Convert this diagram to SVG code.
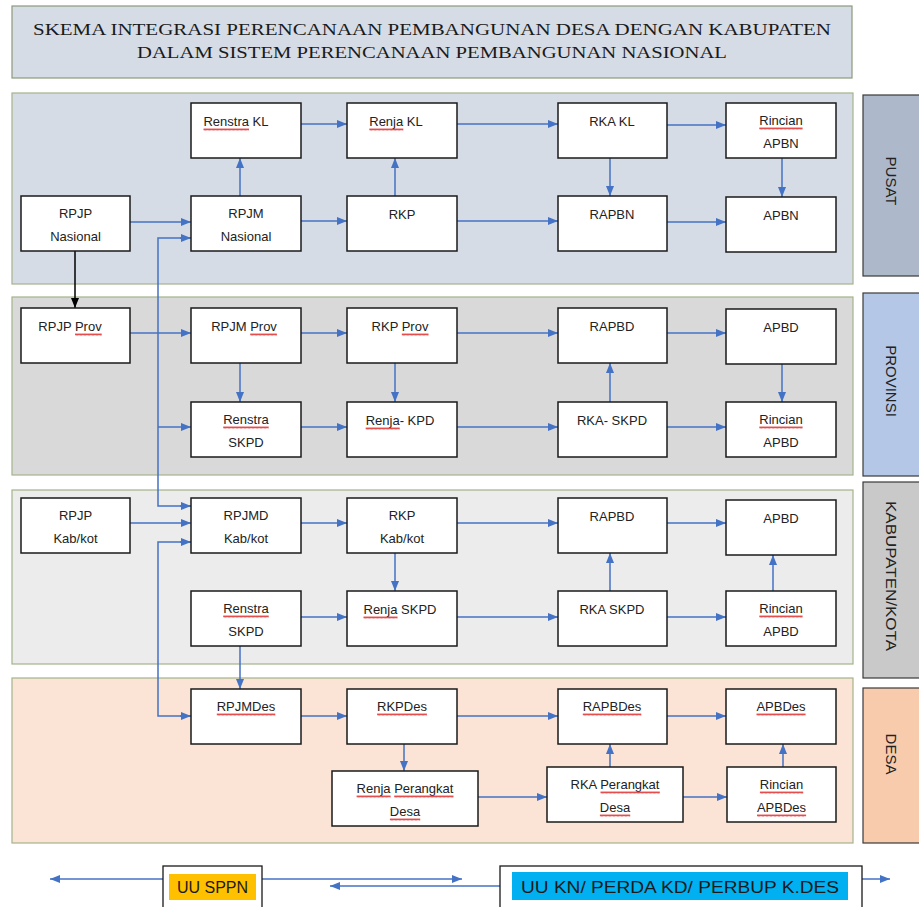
<svg xmlns="http://www.w3.org/2000/svg" xmlns:xlink="http://www.w3.org/1999/xlink" width="919" height="907" viewBox="0 0 919 907">
<style>
.panel{stroke:#a3b48a;stroke-width:1.2}
.side{stroke:#3a3a3a;stroke-width:1.2}
.box{fill:#ffffff;stroke:#1a1a1a;stroke-width:1.5}
.t{font-family:"Liberation Sans",Arial,sans-serif;font-size:13px;fill:#222;text-anchor:middle}
.st{font-family:"Liberation Sans",Arial,sans-serif;font-size:15px;fill:#222;text-anchor:middle;dominant-baseline:central}
.title{font-family:"Liberation Serif","Times New Roman",serif;font-size:17px;fill:#1a1a1a;text-anchor:middle}
.c{fill:none;stroke:#4472c4;stroke-width:1.5}
.k{fill:none;stroke:#000;stroke-width:1.5}
.wv{fill:url(#wave)}
.lg{font-family:"Liberation Sans",Arial,sans-serif;font-size:16px;fill:#1a1a1a;text-anchor:middle}
</style>
<defs>
<marker id="ah" markerWidth="10" markerHeight="8" refX="10" refY="4" orient="auto" markerUnits="userSpaceOnUse"><path d="M0,0 L10,4 L0,8 z" fill="#4472c4"/></marker>
<marker id="ak" markerWidth="10" markerHeight="8" refX="10" refY="4" orient="auto" markerUnits="userSpaceOnUse"><path d="M0,0 L10,4 L0,8 z" fill="#000"/></marker>
<pattern id="wave" width="4" height="3" patternUnits="userSpaceOnUse"><path d="M0,2.5 L1,0.5 L2,2.5 L3,0.5 L4,2.5" fill="none" stroke="#e02020" stroke-width="0.8"/></pattern>
</defs>
<rect x="0" y="0" width="919" height="907" fill="#ffffff"/>

<g id="title">
<rect x="12" y="6" width="840" height="72" fill="#d6dce5" stroke="#8c9a7c" stroke-width="1.2"/>
<text class="title" x="432" y="35" textLength="798" lengthAdjust="spacingAndGlyphs">SKEMA INTEGRASI PERENCANAAN PEMBANGUNAN DESA DENGAN KABUPATEN</text>
<text class="title" x="432" y="58" textLength="590" lengthAdjust="spacingAndGlyphs">DALAM SISTEM PERENCANAAN PEMBANGUNAN NASIONAL</text>
</g>

<g id="panels">
<rect class="panel" x="12" y="93" width="841" height="191" fill="#d6dce5"/>
<rect class="panel" x="12" y="297" width="841" height="178" fill="#d9d9d9"/>
<rect class="panel" x="12" y="490" width="841" height="174" fill="#ececec"/>
<rect class="panel" x="12" y="678" width="841" height="165" fill="#fbe4d5"/>
</g>

<g id="side-labels">
<g id="lbl-pusat"><rect class="side" x="863" y="95" width="62" height="181" fill="#adb9ca"/><text class="st" transform="translate(891,181) rotate(90)">PUSAT</text></g>
<g id="lbl-provinsi"><rect class="side" x="863" y="293" width="62" height="183" fill="#b4c7e7"/><text class="st" transform="translate(891,381) rotate(90)">PROVINSI</text></g>
<g id="lbl-kab"><rect class="side" x="863" y="482" width="62" height="196" fill="#c9c9c9"/><text class="st" transform="translate(891,576) rotate(90)" textLength="150" lengthAdjust="spacingAndGlyphs">KABUPATEN/KOTA</text></g>
<g id="lbl-desa"><rect class="side" x="863" y="688" width="62" height="155" fill="#f8cbad"/><text class="st" transform="translate(891,754) rotate(90)">DESA</text></g>
</g>

<g id="connectors">
<!-- PUSAT -->
<line class="c" x1="301" y1="124" x2="347" y2="124" marker-end="url(#ah)"/>
<line class="c" x1="457" y1="124" x2="558" y2="124" marker-end="url(#ah)"/>
<line class="c" x1="667" y1="125" x2="726" y2="125" marker-end="url(#ah)"/>
<line class="c" x1="130" y1="222" x2="191" y2="222" marker-end="url(#ah)"/>
<line class="c" x1="301" y1="221" x2="347" y2="221" marker-end="url(#ah)"/>
<line class="c" x1="457" y1="221" x2="558" y2="221" marker-end="url(#ah)"/>
<line class="c" x1="667" y1="222" x2="726" y2="222" marker-end="url(#ah)"/>
<line class="c" x1="240" y1="196" x2="240" y2="158" marker-end="url(#ah)"/>
<line class="c" x1="395" y1="196" x2="395" y2="158" marker-end="url(#ah)"/>
<line class="c" x1="610" y1="158" x2="610" y2="196" marker-end="url(#ah)"/>
<line class="c" x1="782" y1="158" x2="782" y2="197" marker-end="url(#ah)"/>
<line class="k" x1="75" y1="251" x2="75" y2="308" marker-end="url(#ak)"/>
<!-- long vertical links -->
<polyline class="c" points="191,238 158,238 158,506 191,506"/>
<line class="c" x1="180" y1="238" x2="191" y2="238" marker-end="url(#ah)"/>
<line class="c" x1="180" y1="506" x2="191" y2="506" marker-end="url(#ah)"/>
<line class="c" x1="158" y1="427" x2="191" y2="427" marker-end="url(#ah)"/>
<polyline class="c" points="191,542 158,542 158,716 191,716"/>
<line class="c" x1="180" y1="542" x2="191" y2="542" marker-end="url(#ah)"/>
<line class="c" x1="180" y1="716" x2="191" y2="716" marker-end="url(#ah)"/>
<!-- PROVINSI -->
<line class="c" x1="130" y1="333" x2="191" y2="333" marker-end="url(#ah)"/>
<line class="c" x1="301" y1="333" x2="347" y2="333" marker-end="url(#ah)"/>
<line class="c" x1="457" y1="333" x2="558" y2="333" marker-end="url(#ah)"/>
<line class="c" x1="667" y1="333" x2="726" y2="333" marker-end="url(#ah)"/>
<line class="c" x1="240" y1="363" x2="240" y2="402" marker-end="url(#ah)"/>
<line class="c" x1="395" y1="363" x2="395" y2="402" marker-end="url(#ah)"/>
<line class="c" x1="301" y1="427" x2="347" y2="427" marker-end="url(#ah)"/>
<line class="c" x1="457" y1="427" x2="558" y2="427" marker-end="url(#ah)"/>
<line class="c" x1="667" y1="427" x2="726" y2="427" marker-end="url(#ah)"/>
<line class="c" x1="610" y1="402" x2="610" y2="363" marker-end="url(#ah)"/>
<line class="c" x1="782" y1="364" x2="782" y2="402" marker-end="url(#ah)"/>
<!-- KABUPATEN -->
<line class="c" x1="130" y1="523" x2="191" y2="523" marker-end="url(#ah)"/>
<line class="c" x1="301" y1="523" x2="347" y2="523" marker-end="url(#ah)"/>
<line class="c" x1="457" y1="523" x2="558" y2="523" marker-end="url(#ah)"/>
<line class="c" x1="667" y1="523" x2="726" y2="523" marker-end="url(#ah)"/>
<line class="c" x1="395" y1="553" x2="395" y2="591" marker-end="url(#ah)"/>
<line class="c" x1="301" y1="617" x2="347" y2="617" marker-end="url(#ah)"/>
<line class="c" x1="457" y1="617" x2="558" y2="617" marker-end="url(#ah)"/>
<line class="c" x1="667" y1="617" x2="726" y2="617" marker-end="url(#ah)"/>
<line class="c" x1="610" y1="591" x2="610" y2="553" marker-end="url(#ah)"/>
<line class="c" x1="773" y1="591" x2="773" y2="555" marker-end="url(#ah)"/>
<line class="c" x1="240" y1="646" x2="240" y2="689" marker-end="url(#ah)"/>
<!-- DESA -->
<line class="c" x1="301" y1="716" x2="347" y2="716" marker-end="url(#ah)"/>
<line class="c" x1="457" y1="716" x2="558" y2="716" marker-end="url(#ah)"/>
<line class="c" x1="667" y1="716" x2="726" y2="716" marker-end="url(#ah)"/>
<line class="c" x1="404" y1="744" x2="404" y2="771" marker-end="url(#ah)"/>
<line class="c" x1="478" y1="797" x2="547" y2="797" marker-end="url(#ah)"/>
<line class="c" x1="683" y1="797" x2="727" y2="797" marker-end="url(#ah)"/>
<line class="c" x1="610" y1="767" x2="610" y2="744" marker-end="url(#ah)"/>
<line class="c" x1="783" y1="767" x2="783" y2="744" marker-end="url(#ah)"/>
<!-- legend arrows -->
<line class="c" x1="163" y1="879" x2="50" y2="879" marker-end="url(#ah)"/>
<line class="c" x1="262" y1="879" x2="462" y2="879" marker-end="url(#ah)"/>
<line class="c" x1="500" y1="886" x2="330" y2="886" marker-end="url(#ah)"/>
<line class="c" x1="862" y1="879" x2="890" y2="879" marker-end="url(#ah)"/>
</g>

<!-- PUSAT nodes -->
<g id="renstra-kl"><rect class="box" x="191" y="103" width="110" height="55"/><text class="t" x="236" y="126">Renstra KL</text><rect class="wv" transform="translate(203.5,128)" width="45.5" height="3"/></g>
<g id="renja-kl"><rect class="box" x="347" y="103" width="110" height="55"/><text class="t" x="396" y="126">Renja KL</text><rect class="wv" transform="translate(369.3,128)" width="34" height="3"/></g>
<g id="rka-kl"><rect class="box" x="558" y="103" width="109" height="55"/><text class="t" x="612" y="126">RKA KL</text></g>
<g id="rincian-apbn"><rect class="box" x="726" y="103" width="110" height="55"/><text class="t" x="781" y="125">Rincian</text><text class="t" x="781" y="148">APBN</text><rect class="wv" transform="translate(759.3,127)" width="43.3" height="3"/></g>
<g id="rpjp-nasional"><rect class="box" x="21" y="196" width="109" height="55"/><text class="t" x="75.5" y="218">RPJP</text><text class="t" x="75.5" y="241">Nasional</text></g>
<g id="rpjm-nasional"><rect class="box" x="191" y="196" width="110" height="55"/><text class="t" x="246" y="218">RPJM</text><text class="t" x="246" y="241">Nasional</text></g>
<g id="rkp"><rect class="box" x="347" y="196" width="110" height="55"/><text class="t" x="402" y="219">RKP</text></g>
<g id="rapbn"><rect class="box" x="558" y="196" width="109" height="55"/><text class="t" x="612" y="219">RAPBN</text></g>
<g id="apbn"><rect class="box" x="726" y="197" width="110" height="55"/><text class="t" x="781" y="220">APBN</text></g>

<!-- PROVINSI nodes -->
<g id="rpjp-prov"><rect class="box" x="21" y="308" width="109" height="55"/><text class="t" x="70" y="331">RPJP Prov</text><rect class="wv" transform="translate(75,333)" width="26.7" height="3"/></g>
<g id="rpjm-prov"><rect class="box" x="191" y="308" width="110" height="55"/><text class="t" x="244" y="331">RPJM Prov</text><rect class="wv" transform="translate(250.2,333)" width="26.7" height="3"/></g>
<g id="rkp-prov"><rect class="box" x="347" y="308" width="110" height="55"/><text class="t" x="400" y="331">RKP Prov</text><rect class="wv" transform="translate(401.8,333)" width="26.7" height="3"/></g>
<g id="rapbd-prov"><rect class="box" x="558" y="308" width="109" height="55"/><text class="t" x="612" y="331">RAPBD</text></g>
<g id="apbd-prov"><rect class="box" x="726" y="309" width="110" height="55"/><text class="t" x="781" y="332">APBD</text></g>
<g id="renstra-skpd-prov"><rect class="box" x="191" y="402" width="110" height="55"/><text class="t" x="246" y="424">Renstra</text><text class="t" x="246" y="447">SKPD</text><rect class="wv" transform="translate(223.2,426)" width="45.5" height="3"/></g>
<g id="renja-kpd"><rect class="box" x="347" y="402" width="110" height="55"/><text class="t" x="400" y="425">Renja- KPD</text><rect class="wv" transform="translate(365.7,427)" width="34" height="3"/></g>
<g id="rka-skpd-prov"><rect class="box" x="558" y="402" width="109" height="55"/><text class="t" x="612" y="425">RKA- SKPD</text></g>
<g id="rincian-apbd-prov"><rect class="box" x="726" y="402" width="110" height="55"/><text class="t" x="781" y="424">Rincian</text><text class="t" x="781" y="447">APBD</text><rect class="wv" transform="translate(759.3,426)" width="43.3" height="3"/></g>

<!-- KABUPATEN nodes -->
<g id="rpjp-kab"><rect class="box" x="21" y="498" width="109" height="55"/><text class="t" x="75.5" y="520">RPJP</text><text class="t" x="75.5" y="543">Kab/kot</text></g>
<g id="rpjmd-kab"><rect class="box" x="191" y="498" width="110" height="55"/><text class="t" x="246" y="520">RPJMD</text><text class="t" x="246" y="543">Kab/kot</text></g>
<g id="rkp-kab"><rect class="box" x="347" y="498" width="110" height="55"/><text class="t" x="402" y="520">RKP</text><text class="t" x="402" y="543">Kab/kot</text></g>
<g id="rapbd-kab"><rect class="box" x="558" y="498" width="109" height="55"/><text class="t" x="612" y="521">RAPBD</text></g>
<g id="apbd-kab"><rect class="box" x="726" y="500" width="110" height="55"/><text class="t" x="781" y="523">APBD</text></g>
<g id="renstra-skpd-kab"><rect class="box" x="191" y="591" width="110" height="55"/><text class="t" x="246" y="613">Renstra</text><text class="t" x="246" y="636">SKPD</text><rect class="wv" transform="translate(223.2,615)" width="45.5" height="3"/></g>
<g id="renja-skpd-kab"><rect class="box" x="347" y="591" width="110" height="55"/><text class="t" x="400" y="614">Renja SKPD</text><rect class="wv" transform="translate(363.5,616)" width="34" height="3"/></g>
<g id="rka-skpd-kab"><rect class="box" x="558" y="591" width="109" height="55"/><text class="t" x="612" y="614">RKA SKPD</text></g>
<g id="rincian-apbd-kab"><rect class="box" x="726" y="591" width="110" height="55"/><text class="t" x="781" y="613">Rincian</text><text class="t" x="781" y="636">APBD</text><rect class="wv" transform="translate(759.3,615)" width="43.3" height="3"/></g>

<!-- DESA nodes -->
<g id="rpjmdes"><rect class="box" x="191" y="689" width="110" height="55"/><text class="t" x="246" y="711">RPJMDes</text><rect class="wv" transform="translate(216.8,713)" width="58.5" height="3"/></g>
<g id="rkpdes"><rect class="box" x="347" y="689" width="110" height="55"/><text class="t" x="402" y="711">RKPDes</text><rect class="wv" transform="translate(377.1,713)" width="49.8" height="3"/></g>
<g id="rapbdes"><rect class="box" x="558" y="689" width="109" height="55"/><text class="t" x="612" y="711">RAPBDes</text><rect class="wv" transform="translate(582.8,713)" width="58.5" height="3"/></g>
<g id="apbdes"><rect class="box" x="726" y="689" width="110" height="55"/><text class="t" x="781" y="711">APBDes</text><rect class="wv" transform="translate(756.5,713)" width="49.1" height="3"/></g>
<g id="renja-perangkat-desa"><rect class="box" x="332" y="771" width="146" height="55"/><text class="t" x="405" y="793">Renja Perangkat</text><text class="t" x="405" y="816">Desa</text><rect class="wv" transform="translate(356.6,795)" width="34" height="3"/><rect class="wv" transform="translate(394.2,795)" width="59.3" height="3"/><rect class="wv" transform="translate(389.9,818)" width="30.3" height="3"/></g>
<g id="rka-perangkat-desa"><rect class="box" x="547" y="767" width="136" height="55"/><text class="t" x="615" y="789">RKA Perangkat</text><text class="t" x="615" y="812">Desa</text><rect class="wv" transform="translate(600.5,791)" width="59.3" height="3"/><rect class="wv" transform="translate(599.9,814)" width="30.3" height="3"/></g>
<g id="rincian-apbdes"><rect class="box" x="727" y="767" width="109" height="55"/><text class="t" x="781.5" y="789">Rincian</text><text class="t" x="781.5" y="812">APBDes</text><rect class="wv" transform="translate(759.9,791)" width="43.3" height="3"/><rect class="wv" transform="translate(757,814)" width="49.1" height="3"/></g>

<!-- legend -->
<g id="uu-sppn"><rect x="163" y="866" width="99" height="50" fill="#ffffff" stroke="#1a1a1a" stroke-width="1.3"/><rect x="169" y="874" width="87" height="26" fill="#ffc000"/><text class="lg" x="212.5" y="893">UU SPPN</text></g>
<g id="uu-kn"><rect x="500" y="866" width="362" height="50" fill="#ffffff" stroke="#1a1a1a" stroke-width="1.3"/><rect x="512" y="872" width="336" height="28" fill="#00b0f0"/><text class="lg" x="680" y="893" textLength="318" lengthAdjust="spacingAndGlyphs">UU KN/ PERDA KD/ PERBUP K.DES</text></g>
</svg>
